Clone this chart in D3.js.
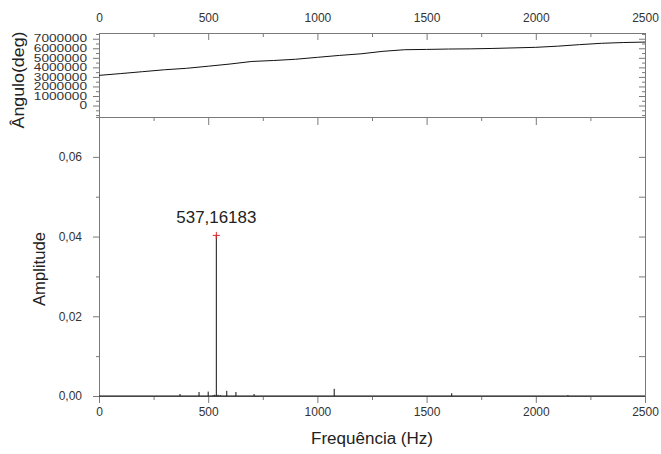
<!DOCTYPE html>
<html><head><meta charset="utf-8">
<script src="https://cdn.jsdelivr.net/npm/d3@7"></script>
<style>body{margin:0;background:#fff} svg{display:block;font-family:"Liberation Sans",Arial,sans-serif}</style>
</head><body><svg id="c" width="661" height="454"></svg>
<script>
// ---- data ----
const freqTicks = [0, 500, 1000, 1500, 2000, 2500];
const freqMinor = [250, 750, 1250, 1750, 2250];
const angleTicks = [0, 1000000, 2000000, 3000000, 4000000, 5000000, 6000000, 7000000];
const angleMinor = [-1000000, -500000, 500000, 1500000, 2500000, 3500000, 4500000, 5500000, 6500000, 7500000];
const ampTicks = [0, 0.02, 0.04, 0.06];
const ampMinor = [0.01, 0.03, 0.05, 0.07];

const angleFreq = [0, 100, 200, 300, 400, 500, 600, 700, 800, 900, 1000, 1100, 1200, 1300, 1400, 1500, 1600, 1700, 1800, 1900, 2000, 2100, 2200, 2300, 2400, 2500];
const angleDeg  = [3160000, 3350000, 3550000, 3750000, 3900000, 4120000, 4350000, 4620000, 4720000, 4850000, 5050000, 5250000, 5420000, 5680000, 5850000, 5880000, 5920000, 5940000, 5980000, 6040000, 6100000, 6220000, 6380000, 6520000, 6600000, 6650000];

const specFreq = [371, 458, 500, 522, 530, 537.16183, 545, 555, 585, 627, 710, 1077, 1615, 2147];
const specAmp  = [0.0005, 0.001, 0.0011, 0.0002, 0.0003, 0.0403, 0.0003, 0.0002, 0.0013, 0.001, 0.0005, 0.0018, 0.0007, 0.0002];
const peakLabel = "537,16183";
const peakFreq = 537.16183, peakAmp = 0.0403;

// ---- layout ----
const L = 99, R = 645, T1 = 33, B1 = 117, T2 = 117, B2 = 396;
const axisCol = "#7a7a7a", textCol = "#333";
const svg = d3.select("#c");

const x = d3.scaleLinear().domain([0, 2500]).range([L, R]);
const yA = d3.scaleLinear().domain([-1200000, 7600000]).range([B1, T1]);
const yS = d3.scaleLinear().domain([0, 0.07]).range([B2, T2]);
const comma = v => d3.format(".2f")(v).replace(".", ",");

function styleAxis(g) {
  g.selectAll("path,line").attr("stroke", axisCol).attr("stroke-width", 1);
  g.selectAll("text").attr("fill", textCol).attr("font-family", "Liberation Sans, Arial, sans-serif");
}

// top panel: top axis (labels above, ticks inward)
svg.append("g").attr("transform", `translate(0,${T1})`)
  .call(d3.axisTop(x).tickValues(freqTicks).tickSizeInner(-7).tickSizeOuter(0).tickPadding(11).tickFormat(d3.format("d")))
  .call(g => g.selectAll("text").attr("font-size", 12))
  .call(styleAxis);
svg.append("g").attr("transform", `translate(0,${T1})`)
  .call(d3.axisTop(x).tickValues(freqMinor).tickSizeInner(-4).tickSizeOuter(0).tickFormat(""))
  .call(styleAxis).call(g => g.select(".domain").remove());

// shared line between panels (ticks pointing down)
svg.append("g").attr("transform", `translate(0,${B1})`)
  .call(d3.axisBottom(x).tickValues(freqTicks).tickSizeInner(8).tickSizeOuter(0).tickFormat(""))
  .call(styleAxis);
svg.append("g").attr("transform", `translate(0,${B1})`)
  .call(d3.axisBottom(x).tickValues(freqMinor).tickSizeInner(4).tickSizeOuter(0).tickFormat(""))
  .call(styleAxis).call(g => g.select(".domain").remove());

// top panel left axis
svg.append("g").attr("transform", `translate(${L},0)`)
  .call(d3.axisLeft(yA).tickValues(angleTicks).tickSizeInner(6).tickSizeOuter(0).tickPadding(6).tickFormat(d3.format("d")))
  .call(g => g.selectAll("text").attr("font-size", 10).attr("textLength", d => String(d).length * 7.6).attr("lengthAdjust", "spacingAndGlyphs"))
  .call(styleAxis);
svg.append("g").attr("transform", `translate(${L},0)`)
  .call(d3.axisLeft(yA).tickValues(angleMinor).tickSizeInner(3).tickSizeOuter(0).tickFormat(""))
  .call(styleAxis).call(g => g.select(".domain").remove());
// top panel right axis
svg.append("g").attr("transform", `translate(${R},0)`)
  .call(d3.axisRight(yA).tickValues(angleTicks).tickSizeInner(-6).tickSizeOuter(0).tickFormat(""))
  .call(styleAxis);
svg.append("g").attr("transform", `translate(${R},0)`)
  .call(d3.axisRight(yA).tickValues(angleMinor).tickSizeInner(-3).tickSizeOuter(0).tickFormat(""))
  .call(styleAxis).call(g => g.select(".domain").remove());

// bottom panel axes
svg.append("g").attr("transform", `translate(0,${B2})`)
  .call(d3.axisBottom(x).tickValues(freqTicks).tickSizeInner(7).tickSizeOuter(0).tickPadding(4).tickFormat(d3.format("d")))
  .call(g => g.selectAll("text").attr("font-size", 12))
  .call(styleAxis);
svg.append("g").attr("transform", `translate(0,${B2})`)
  .call(d3.axisBottom(x).tickValues(freqMinor).tickSizeInner(4).tickSizeOuter(0).tickFormat(""))
  .call(styleAxis).call(g => g.select(".domain").remove());

svg.append("g").attr("transform", `translate(${L},0)`)
  .call(d3.axisLeft(yS).tickValues(ampTicks).tickSizeInner(6).tickSizeOuter(0).tickPadding(11).tickFormat(comma))
  .call(g => g.selectAll("text").attr("font-size", 12))
  .call(styleAxis);
svg.append("g").attr("transform", `translate(${L},0)`)
  .call(d3.axisLeft(yS).tickValues(ampMinor).tickSizeInner(3).tickSizeOuter(0).tickFormat(""))
  .call(styleAxis).call(g => g.select(".domain").remove());
svg.append("g").attr("transform", `translate(${R},0)`)
  .call(d3.axisRight(yS).tickValues(ampTicks.concat(ampMinor)).tickSizeInner(-6).tickSizeOuter(0).tickFormat(""))
  .call(styleAxis);

// angle line
const angleData = angleFreq.map((f, i) => [f, angleDeg[i]]);
svg.append("path").datum(angleData)
  .attr("fill", "none").attr("stroke", "#111").attr("stroke-width", 1)
  .attr("d", d3.line().x(d => x(d[0])).y(d => yA(d[1])));

// spectrum baseline + spikes
svg.append("path").datum([[0, 0], [2500, 0]])
  .attr("fill", "none").attr("stroke", "#111").attr("stroke-width", 1)
  .attr("d", d3.line().x(d => x(d[0])).y(d => yS(d[1])));
svg.append("g").selectAll("line").data(specFreq.map((f, i) => [f, specAmp[i]])).join("line")
  .attr("x1", d => x(d[0])).attr("x2", d => x(d[0]))
  .attr("y1", yS(0)).attr("y2", d => yS(d[1]))
  .attr("stroke", "#111").attr("stroke-width", 1);

// peak marker and label
const px = x(peakFreq), py = yS(peakAmp);
svg.append("path").attr("d", `M${px-3.5},${py}H${px+3.5}M${px},${py-3.5}V${py+3.5}`)
  .attr("stroke", "#e0242a").attr("stroke-width", 1).attr("fill", "none");
svg.append("text").attr("x", px).attr("y", py - 12).attr("text-anchor", "middle")
  .attr("font-size", 16).attr("fill", "#222").attr("textLength", 80).attr("lengthAdjust", "spacingAndGlyphs")
  .text(peakLabel);

// axis titles
svg.append("text").attr("x", (L + R) / 2).attr("y", 444).attr("text-anchor", "middle")
  .attr("font-size", 16).attr("fill", "#222").attr("textLength", 122).attr("lengthAdjust", "spacingAndGlyphs")
  .text("Frequência (Hz)");
svg.append("text").attr("transform", "translate(45,269) rotate(-90)").attr("text-anchor", "middle")
  .attr("font-size", 16).attr("fill", "#222").attr("textLength", 74).attr("lengthAdjust", "spacingAndGlyphs")
  .text("Amplitude");
svg.append("text").attr("transform", "translate(24,80) rotate(-90)").attr("text-anchor", "middle")
  .attr("font-size", 16).attr("fill", "#222").attr("textLength", 97).attr("lengthAdjust", "spacingAndGlyphs")
  .text("Ângulo(deg)");
</script>
</body></html>
